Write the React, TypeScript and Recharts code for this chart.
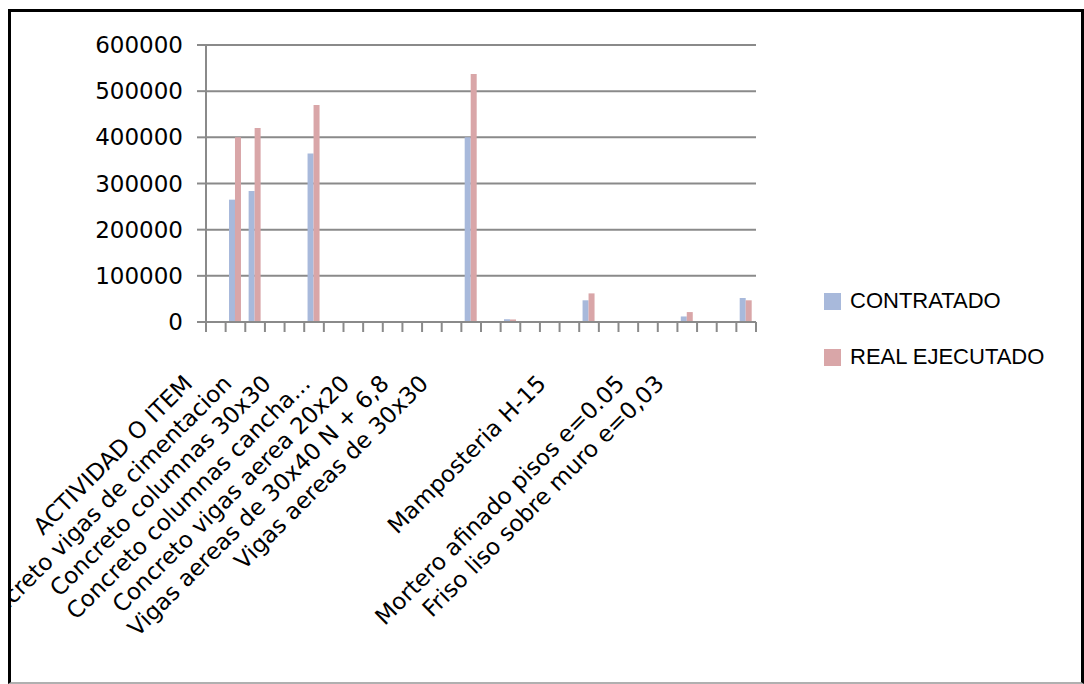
import React from 'react';
import { BarChart, Bar, XAxis, YAxis, CartesianGrid, Legend } from 'recharts';

// Budget items (every row of the sheet; blank rows keep their slot on the axis)
const categories: string[] = [
  'ACTIVIDAD O ITEM',
  '',
  'Concreto vigas de cimentacion',
  '',
  'Concreto columnas 30x30',
  '',
  'Concreto columnas cancha...',
  '',
  'Concreto vigas aerea 20x20',
  '',
  'Vigas aereas de 30x40 N + 6,8',
  '',
  'Vigas aereas de 30x30',
  '',
  '',
  '',
  '',
  '',
  'Mamposteria H-15',
  '',
  '',
  '',
  'Mortero afinado pisos e=0.05',
  '',
  'Friso liso sobre muro e=0,03',
  '',
  '',
  '',
];

const contratado: (number | null)[] = [
  null, 265000, 284000, null, null, 365000, null, null, null, null,
  null, null, null, 400000, null, 6000, null, null, null, 47000,
  null, null, null, null, 12000, null, null, 52000,
];

const realEjecutado: (number | null)[] = [
  null, 400000, 420000, null, null, 470000, null, null, null, null,
  null, null, null, 537000, null, 5500, null, null, null, 62000,
  null, null, null, null, 21500, null, null, 47000,
];

const yTicks = [0, 100000, 200000, 300000, 400000, 500000, 600000];

const seriesNames = ['CONTRATADO', 'REAL EJECUTADO'];
const seriesColors = ['#A8B9DB', '#D9A6A8'];

const data = categories.map((name, i) => ({
  name,
  contratado: contratado[i],
  real: realEjecutado[i],
}));

const AXIS_COLOR = '#8a8a8a';
const TICK_LEN = 10;
const PLOT_WIDTH = 550;
const LABEL_FONT = '"DejaVu Sans", Verdana, sans-serif';

function CategoryTick(props: any) {
  const { x, y, payload, index } = props;
  const fallbackHalf = PLOT_WIDTH / categories.length / 2;
  const half =
    payload && typeof payload.offset === 'number' && payload.offset > 0
      ? payload.offset
      : fallbackHalf;
  const axisY = y - TICK_LEN;
  const label: string = payload ? payload.value : '';
  const isLast = index === categories.length - 1;
  const lx = x - 22;
  const ly = axisY + 63;
  return (
    <g>
      <line x1={x - half} x2={x - half} y1={axisY} y2={axisY + TICK_LEN} stroke={AXIS_COLOR} strokeWidth={2} />
      {isLast ? (
        <line x1={x + half} x2={x + half} y1={axisY} y2={axisY + TICK_LEN} stroke={AXIS_COLOR} strokeWidth={2} />
      ) : null}
      {label ? (
        <text
          x={lx}
          y={ly}
          transform={`rotate(-45 ${lx} ${ly})`}
          textAnchor="end"
          fontFamily={LABEL_FONT}
          fontSize={23}
          fill="#000"
        >
          {label}
        </text>
      ) : null}
    </g>
  );
}

function LegendBox() {
  return (
    <div style={{ fontFamily: '"Liberation Sans", Arial, sans-serif', fontSize: 22, color: '#000' }}>
      {seriesNames.map((name, i) => (
        <div
          key={name}
          style={{ display: 'flex', alignItems: 'center', height: 24, marginBottom: 32, whiteSpace: 'nowrap' }}
        >
          <span style={{ display: 'inline-block', width: 17, height: 17, background: seriesColors[i], marginRight: 9 }} />
          <span style={{ lineHeight: '24px' }}>{name}</span>
        </div>
      ))}
    </div>
  );
}

export default function App() {
  return (
    <div style={{ position: 'absolute', left: 0, top: 0, width: 1084, height: 684, background: '#fff', overflow: 'hidden' }}>
      <div
        style={{
          position: 'absolute',
          left: 8,
          top: 9,
          width: 1076,
          height: 675,
          boxSizing: 'border-box',
          borderLeft: '3px solid #000',
          borderTop: '3px solid #000',
          borderRight: '3px solid #000',
          borderBottom: '2px solid #b0b0b0',
          overflow: 'hidden',
          background: '#fff',
        }}
      >
        <BarChart
          width={1070}
          height={670}
          data={data}
          margin={{ top: 33, right: 325, bottom: 280, left: 0 }}
          barCategoryGap="17%"
          barGap={0}
        >
          <CartesianGrid vertical={false} stroke={AXIS_COLOR} strokeWidth={2} />
          <XAxis
            dataKey="name"
            interval={0}
            height={80}
            tickSize={TICK_LEN}
            tickMargin={0}
            tickLine={false}
            axisLine={{ stroke: AXIS_COLOR, strokeWidth: 2 }}
            tick={<CategoryTick />}
          />
          <YAxis
            width={195}
            domain={[0, 600000]}
            ticks={yTicks}
            interval={0}
            tickSize={9}
            tickMargin={14}
            axisLine={{ stroke: AXIS_COLOR, strokeWidth: 2 }}
            tickLine={{ stroke: AXIS_COLOR, strokeWidth: 2 }}
            tick={{ fontFamily: LABEL_FONT, fontSize: 23, fill: '#000' }}
          />
          <Legend
            layout="horizontal"
            verticalAlign="middle"
            align="center"
            wrapperStyle={{ left: 813, top: 277, width: 250, height: 90 }}
            content={() => <LegendBox />}
          />
          <Bar dataKey="contratado" name={seriesNames[0]} fill={seriesColors[0]} isAnimationActive={false} />
          <Bar dataKey="real" name={seriesNames[1]} fill={seriesColors[1]} isAnimationActive={false} />
        </BarChart>
      </div>
    </div>
  );
}
